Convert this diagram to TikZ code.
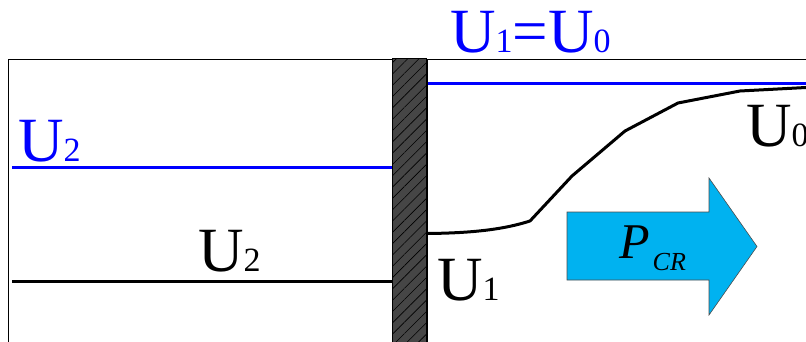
\documentclass[tikz,border=0pt]{standalone}
\usepackage{fontspec}
\setmainfont{Liberation Serif}
\usetikzlibrary{patterns.meta}
\definecolor{arrowcyan}{RGB}{0,178,240}
\definecolor{wallgray}{RGB}{70,70,70}
\definecolor{pureblue}{RGB}{0,0,255}
\tikzset{
  lvl/.style={line width=3pt},
  bluelvl/.style={lvl, draw=pureblue},
  blacklvl/.style={lvl, draw=black},
  frame/.style={draw=black, line width=1pt},
  lbl/.style={inner sep=0pt, anchor=base west, font=\fontsize{63}{63}\selectfont},
}
\newcommand{\sbd}[1]{{\fontsize{34}{34}\selectfont #1}}
\begin{document}
\begin{tikzpicture}[x=1pt,y=-1pt]
\useasboundingbox (0,0) rectangle (806,342);
\clip (0,0) rectangle (806,342);
% frames
\draw[frame] (8,59.5) rectangle (392,345);
\draw[frame] (427.5,59.5) rectangle (812,345);
% wall
\fill[wallgray] (392,59) rectangle (426,345);
\fill[pattern={Lines[angle=45,distance=8pt,line width=0.6pt]},pattern color=black] (392,59) rectangle (426,345);
\draw[line width=1pt] (392,59) rectangle (426,345);
% levels
\draw[bluelvl] (12,168) -- (392,168);
\draw[blacklvl] (12,281.5) -- (392,281.5);
\draw[bluelvl] (428,83.5) -- (806,83.5);
\draw[blacklvl, line join=round] (428,233.5) .. controls (475,233) and (505,229) .. (530,221) -- (572,176) -- (625,131) -- (678,103) -- (740,91) -- (806,87.5);
% arrow
\draw[fill=arrowcyan, draw=black!70, line width=0.6pt] (567,212) -- (709,212) -- (709,178) -- (757,246.5) -- (709,315) -- (709,280) -- (567,280) -- cycle;
% labels
\node[lbl, text=pureblue] (u10) at (450,53) {U\sbd{1}=U\sbd{0}};
\node[lbl, text=pureblue] (u2b) at (18,162) {U\sbd{2}};
\node[lbl] (u2k) at (198,271.5) {U\sbd{2}};
\node[lbl] (u1) at (437,300) {U\sbd{1}};
\node[lbl] (u0) at (746,147) {U\sbd{0}};
\node[inner sep=0pt, anchor=base west] (pcr) at (619,258) {\fontsize{50}{50}\selectfont\itshape P\kern3pt{\fontsize{26}{26}\selectfont\raisebox{-12pt}{CR}}};
\end{tikzpicture}
\end{document}
